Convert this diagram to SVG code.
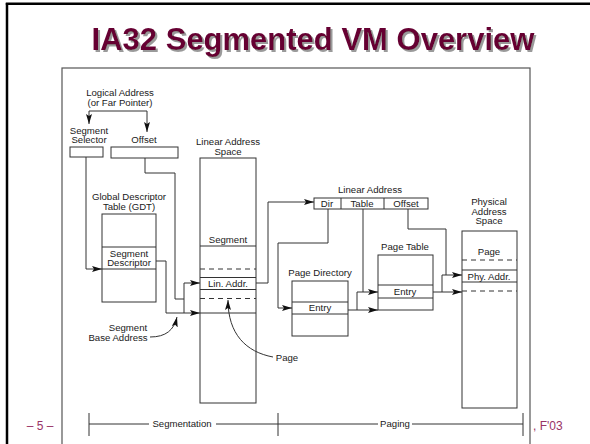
<svg xmlns="http://www.w3.org/2000/svg" width="590" height="444" viewBox="0 0 590 444">
<style>
.t{font-family:"Liberation Sans",Arial,sans-serif;font-size:9.6px;fill:#1a1a1a;text-anchor:middle}
.b{fill:none;stroke:#333;stroke-width:1}
.c{fill:none;stroke:#333;stroke-width:1}
.a{marker-end:url(#ah)}
.d{stroke:#333;stroke-width:1;stroke-dasharray:5,4}
.f{font-family:"Liberation Sans",Arial,sans-serif;font-size:12px;fill:#993366}
</style>
<defs>
<marker id="ah" markerUnits="userSpaceOnUse" markerWidth="10" markerHeight="6" refX="10" refY="3" orient="auto">
<path d="M0,0 L10,3 L0,6 L2,3 z" fill="#111"/>
</marker>
<filter id="sh" x="-5%" y="-20%" width="110%" height="150%">
<feOffset in="SourceAlpha" dx="2" dy="2" result="o"/>
<feFlood flood-color="#9a9a9a"/>
<feComposite in2="o" operator="in" result="s"/>
<feMerge><feMergeNode in="s"/><feMergeNode in="SourceGraphic"/></feMerge>
</filter>
</defs>
<rect width="590" height="444" fill="#fff"/>
<line x1="5.8" y1="3.8" x2="590" y2="3.8" stroke="#000" stroke-width="2.5"/>
<line x1="7" y1="3" x2="7" y2="444" stroke="#000" stroke-width="2.5"/>
<g id="title">
<text x="313" y="50" fill="#660033" font-family="'Liberation Sans',Arial,sans-serif" font-size="31" font-weight="bold" text-anchor="middle" filter="url(#sh)">IA32 Segmented VM Overview</text>
</g>
<text class="f" x="40" y="430" text-anchor="middle">– 5 –</text>
<text class="f" x="533" y="430">, F'03</text>
<rect id="panel" x="62" y="68" width="468" height="400" fill="#fff" stroke="#555" stroke-width="1.2"/>

<g id="logical-address">
<text class="t" x="120" y="96"><tspan x="120">Logical Address</tspan><tspan x="120" dy="9.5">(or Far Pointer)</tspan></text>
</g>
<g id="segment-selector">
<text class="t" x="89" y="133.5"><tspan x="89">Segment</tspan><tspan x="89" dy="9.5">Selector</tspan></text>
<rect class="b" x="70" y="147" width="33" height="10"/>
</g>
<g id="offset">
<text class="t" x="144" y="143">Offset</text>
<rect class="b" x="111" y="147" width="67" height="11"/>
</g>
<g id="gdt">
<text class="t" x="129" y="200"><tspan x="129">Global Descriptor</tspan><tspan x="129" dy="10">Table (GDT)</tspan></text>
<rect class="b" x="102" y="214" width="54" height="88"/>
<line class="b" x1="102" y1="247" x2="156" y2="247"/>
<line class="b" x1="102" y1="269" x2="156" y2="269"/>
<text class="t" x="129" y="256.5"><tspan x="129">Segment</tspan><tspan x="129" dy="9.5">Descriptor</tspan></text>
</g>
<g id="linear-space">
<text class="t" x="228" y="145"><tspan x="228">Linear Address</tspan><tspan x="228" dy="10">Space</tspan></text>
<rect class="b" x="200" y="158" width="56" height="245"/>
<text class="t" x="228" y="243">Segment</text>
<line class="b" x1="200" y1="246" x2="256" y2="246"/>
<line class="d" x1="200" y1="269" x2="256" y2="269"/>
<line class="b" x1="200" y1="277.5" x2="256" y2="277.5"/>
<text class="t" x="228" y="287">Lin. Addr.</text>
<line class="b" x1="200" y1="289.5" x2="256" y2="289.5"/>
<line class="d" x1="200" y1="298.5" x2="256" y2="298.5"/>
<line class="b" x1="200" y1="313" x2="256" y2="313"/>
</g>
<g id="linear-address">
<text class="t" x="370" y="193">Linear Address</text>
<rect class="b" x="314" y="198" width="114" height="11"/>
<line class="b" x1="341" y1="198" x2="341" y2="209"/>
<line class="b" x1="384" y1="198" x2="384" y2="209"/>
<text class="t" x="327" y="207">Dir</text>
<text class="t" x="362" y="207">Table</text>
<text class="t" x="406" y="207">Offset</text>
</g>
<g id="page-directory">
<text class="t" x="320" y="276">Page Directory</text>
<rect class="b" x="292" y="281" width="56" height="55"/>
<line class="b" x1="292" y1="302" x2="348" y2="302"/>
<line class="b" x1="292" y1="314" x2="348" y2="314"/>
<text class="t" x="320" y="311">Entry</text>
</g>
<g id="page-table">
<text class="t" x="405" y="250">Page Table</text>
<rect class="b" x="378" y="255" width="55" height="55"/>
<line class="b" x1="378" y1="285" x2="433" y2="285"/>
<line class="b" x1="378" y1="298" x2="433" y2="298"/>
<text class="t" x="405" y="295">Entry</text>
</g>
<g id="physical-space">
<text class="t" x="489" y="205"><tspan x="489">Physical</tspan><tspan x="489" dy="9.5">Address</tspan><tspan x="489" dy="9.5">Space</tspan></text>
<rect class="b" x="462" y="231" width="55" height="177"/>
<text class="t" x="489" y="255">Page</text>
<line class="d" x1="462" y1="260" x2="517" y2="260"/>
<line class="b" x1="462" y1="270" x2="517" y2="270"/>
<text class="t" x="489" y="280">Phy. Addr.</text>
<line class="b" x1="462" y1="282" x2="517" y2="282"/>
<line class="d" x1="462" y1="291" x2="517" y2="291"/>
</g>
<g id="labels">
<text class="t" x="128" y="331"><tspan x="128">Segment</tspan><tspan x="118" dy="10">Base Address</tspan></text>
<text class="t" x="287" y="361">Page</text>
<text class="t" x="182" y="427">Segmentation</text>
<text class="t" x="395" y="427">Paging</text>
</g>
<g id="connectors">
<path class="c a" d="M118,111 H89 V124"/>
<path class="c a" d="M118,111 H147 V132"/>
<path class="c a" d="M86,157 V269 H102"/>
<path class="c" d="M145,158 V173 H175 V299 H184"/>
<path class="c a" d="M184,313 V283 H200"/>
<path class="c a" d="M156,261 H166 V313 H200"/>
<path class="c a" d="M256,283 H268 V202 H314"/>
<path class="c a" d="M328,209 V243 H278 V308 H292"/>
<path class="c a" d="M348,310 H378"/>
<path class="c a" d="M357,310 V292 H378"/>
<path class="c" d="M363,209 V292"/>
<path class="c a" d="M433,292 H462"/>
<path class="c a" d="M442,292 V275 H462"/>
<path class="c" d="M408,209 V229 H446 V275"/>
<path class="c a" d="M150,337 C166,337 174,330 177,317"/>
<path class="c a" d="M273,357 C246,352 228,334 228,300"/>
<path class="c" d="M89,413 V436 M89,424 H149 M216,424 H278 M278,413 V436 M278,424 H378 M412,424 H523 M523,413 V436"/>
</g>
</svg>
